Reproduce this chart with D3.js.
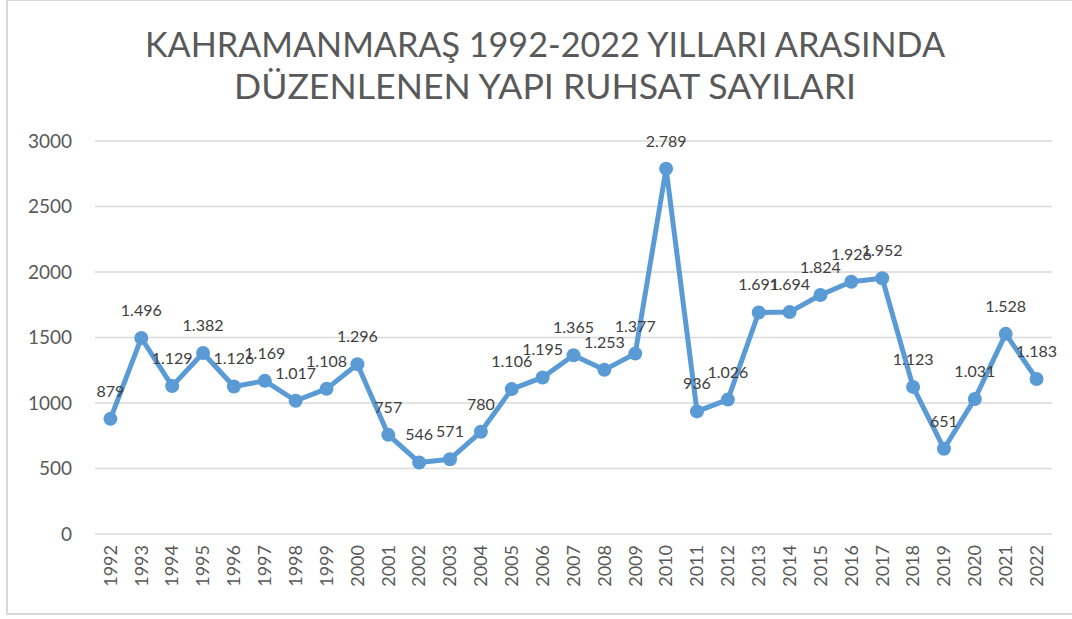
<!DOCTYPE html>
<html>
<head>
<meta charset="utf-8">
<title>Kahramanmaraş yapı ruhsat sayıları</title>
<script src="https://d3js.org/d3.v7.min.js"></script>
<style>
  body { margin: 0; background: #fff; }
  svg { display: block; font-family: "Lato", "Open Sans", sans-serif; }
</style>
</head>
<body>
<script>
// chart data
var years = ["1992","1993","1994","1995","1996","1997","1998","1999","2000","2001",
             "2002","2003","2004","2005","2006","2007","2008","2009","2010","2011",
             "2012","2013","2014","2015","2016","2017","2018","2019","2020","2021","2022"];
var permits = [879, 1496, 1129, 1382, 1126, 1169, 1017, 1108, 1296, 757,
               546, 571, 780, 1106, 1195, 1365, 1253, 1377, 2789, 936,
               1026, 1691, 1694, 1824, 1926, 1952, 1123, 651, 1031, 1528, 1183];
var yTicks = [0, 500, 1000, 1500, 2000, 2500, 3000];
var titleLines = ["KAHRAMANMARAŞ 1992-2022 YILLARI ARASINDA", "DÜZENLENEN YAPI RUHSAT SAYILARI"];

var width = 1072, height = 619;
var margin = {top: 141, right: 20, bottom: 85, left: 95};

var svg = d3.select("body").append("svg")
  .attr("width", width)
  .attr("height", height);

// outer chart border
svg.append("rect")
  .attr("x", 7).attr("y", 0)
  .attr("width", width + 20).attr("height", 614)
  .attr("fill", "none")
  .attr("stroke", "#d9d9d9")
  .attr("stroke-width", 2);

// title
svg.selectAll(".title")
  .data(titleLines)
  .enter().append("text")
  .attr("class", "title")
  .attr("x", 545)
  .attr("y", function(d, i) { return 57 + i * 42; })
  .attr("text-anchor", "middle")
  .attr("fill", "#595959")
  .attr("font-size", 35)
  .attr("textLength", function(d, i) { return i == 0 ? 800 : 622; })
  .attr("lengthAdjust", "spacingAndGlyphs")
  .text(function(d) { return d; });

var x = d3.scaleBand()
  .domain(years)
  .range([margin.left, 1052]);

var y = d3.scaleLinear()
  .domain([0, 3000])
  .range([534, 141]);

// gridlines
svg.append("g")
  .selectAll("line")
  .data(yTicks)
  .enter().append("line")
  .attr("x1", margin.left)
  .attr("x2", 1052)
  .attr("y1", function(d) { return y(d); })
  .attr("y2", function(d) { return y(d); })
  .attr("stroke", "#d9d9d9")
  .attr("stroke-width", 1.3);

// y axis labels
var yAxis = svg.append("g")
  .attr("transform", "translate(" + (margin.left - 8) + ",0)")
  .call(d3.axisLeft(y).tickValues(yTicks).tickFormat(d3.format("d")).tickSize(0).tickPadding(15));
yAxis.select(".domain").remove();
yAxis.attr("font-size", 19).attr("font-family", "Lato, sans-serif");
yAxis.selectAll("text")
  .attr("fill", "#595959");

// x axis labels (rotated)
var xAxis = svg.append("g")
  .attr("transform", "translate(0,534)")
  .call(d3.axisBottom(x).tickSize(0));
xAxis.select(".domain").remove();
xAxis.attr("font-size", 18).attr("font-family", "Lato, sans-serif");
xAxis.selectAll("text")
  .attr("fill", "#595959")
  .attr("text-anchor", "end")
  .attr("transform", "rotate(-90)")
  .attr("x", -11)
  .attr("y", 0)
  .attr("dy", "0.35em");

var cx = function(d, i) { return x(years[i]) + x.bandwidth() / 2; };

// line
var line = d3.line()
  .x(function(d, i) { return cx(d, i); })
  .y(function(d) { return y(d); });

svg.append("path")
  .datum(permits)
  .attr("d", line)
  .attr("fill", "none")
  .attr("stroke", "#5b9bd5")
  .attr("stroke-width", 5)
  .attr("stroke-linejoin", "round");

// markers
svg.append("g")
  .selectAll("circle")
  .data(permits)
  .enter().append("circle")
  .attr("cx", cx)
  .attr("cy", function(d) { return y(d); })
  .attr("r", 7)
  .attr("fill", "#5b9bd5");

// data labels, Turkish number format
var fmt = d3.formatLocale({decimal: ",", thousands: ".", grouping: [3], currency: ["", ""]}).format(",d");

svg.append("g")
  .selectAll("text")
  .data(permits)
  .enter().append("text")
  .attr("x", cx)
  .attr("y", function(d) { return y(d) - 22; })
  .attr("text-anchor", "middle")
  .attr("fill", "#404040")
  .attr("font-size", 16)
  .text(function(d) { return fmt(d); });
</script>
</body>
</html>
